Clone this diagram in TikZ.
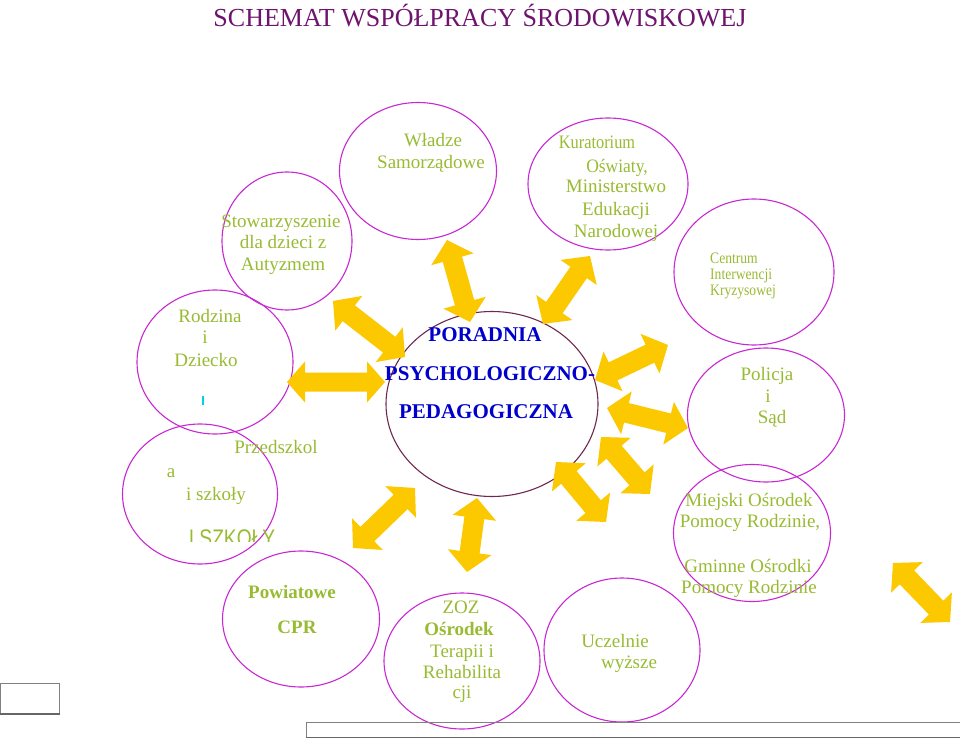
\documentclass[tikz,border=0pt]{standalone}
\usepackage{fontspec}
\setmainfont{Liberation Serif}
\newfontfamily\arialf{Liberation Sans}
\usetikzlibrary{calc,shapes.geometric}
\definecolor{elmag}{RGB}{200,40,210}
\definecolor{poradc}{RGB}{110,40,80}
\definecolor{txtgreen}{RGB}{153,187,51}
\definecolor{pblue}{RGB}{0,0,204}
\definecolor{titlec}{RGB}{110,20,110}
\definecolor{arry}{RGB}{252,200,0}
\definecolor{cyanm}{RGB}{0,210,230}
% #1 start, #2 end, #3 shaft half width, #4 head half width, #5 head length
\newcommand{\dblarrow}[5]{%
\fill[arry] let \p1=($(#2)-(#1)$), \n1={atan2(\y1,\x1)} in
 (#1) -- ($(#1)+(\n1:#5)+(\n1+90:#4)$) -- ($(#1)+(\n1:#5)+(\n1+90:#3)$)
 -- ($(#2)+(\n1+180:#5)+(\n1+90:#3)$) -- ($(#2)+(\n1+180:#5)+(\n1+90:#4)$)
 -- (#2) -- ($(#2)+(\n1+180:#5)+(\n1-90:#4)$) -- ($(#2)+(\n1+180:#5)+(\n1-90:#3)$)
 -- ($(#1)+(\n1:#5)+(\n1-90:#3)$) -- ($(#1)+(\n1:#5)+(\n1-90:#4)$) -- cycle;}
\begin{document}
\begin{tikzpicture}[x=1pt,y=-1pt,
  bub/.style={draw=elmag, line width=1.1pt, ellipse, inner sep=0pt},
  lbl/.style={text=txtgreen, font=\fontsize{19}{22}\selectfont, anchor=base, inner sep=0pt},
  lblb/.style={lbl, font=\fontsize{19}{22}\selectfont\bfseries},
  plbl/.style={text=pblue, font=\fontsize{21}{24}\selectfont\bfseries, anchor=base, inner sep=0pt},
  smlbl/.style={text=txtgreen, font=\fontsize{16}{16}\selectfont, anchor=base west, inner sep=0pt}]
\useasboundingbox (0,0) rectangle (960,738);
\fill[white] (0,0) rectangle (960,738);

% title
\node[text=titlec, font=\fontsize{26}{30}\selectfont, anchor=base, inner sep=0pt] (title) at (480,27) {SCHEMAT WSPÓŁPRACY ŚRODOWISKOWEJ};

% bubbles
\node[bub, minimum width=130pt, minimum height=138pt] (stow) at (287,241) {};
\node[bub, minimum width=157pt, minimum height=137pt] (wladze) at (418,171) {};
\node[bub, minimum width=160pt, minimum height=132pt] (kurat) at (608,184) {};
\node[bub, minimum width=160pt, minimum height=146pt] (centrum) at (754,272) {};
\node[bub, minimum width=157pt, minimum height=134pt] (policja) at (766,415) {};
\node[bub, minimum width=157pt, minimum height=137pt] (miejski) at (752,533) {};
\node[bub, minimum width=156pt, minimum height=144pt] (rodzina) at (215,362) {};
\node[bub, minimum width=155pt, minimum height=140pt] (przedsz) at (200,494) {};
\node[bub, minimum width=157pt, minimum height=136pt] (powiat) at (301,619) {};
\node[bub, minimum width=156pt, minimum height=136pt] (zoz) at (462,661) {};
\node[bub, minimum width=156pt, minimum height=144pt] (uczelnie) at (622,650) {};
\node[draw=poradc, line width=1.1pt, ellipse, inner sep=0pt, minimum width=212pt, minimum height=185pt] (poradnia) at (492,404) {};

% arrows
\coordinate (a1s) at (333,301); \coordinate (a1e) at (405,357);
\coordinate (a2s) at (287,382); \coordinate (a2e) at (385,382);
\coordinate (a3s) at (447,240); \coordinate (a3e) at (470,322);
\coordinate (a4s) at (590,256); \coordinate (a4e) at (543,324);
\coordinate (a5s) at (595,380); \coordinate (a5e) at (668,345);
\coordinate (a6s) at (607,408); \coordinate (a6e) at (688,428);
\coordinate (a7s) at (601,437); \coordinate (a7e) at (650,494);
\coordinate (a8s) at (556,462); \coordinate (a8e) at (606,522);
\coordinate (a9s) at (477,498); \coordinate (a9e) at (467,572);
\coordinate (a10s) at (415,488); \coordinate (a10e) at (353,548);
\coordinate (a11s) at (893,563); \coordinate (a11e) at (950,622);
\dblarrow{a1s}{a1e}{10pt}{22pt}{20pt}
\dblarrow{a2s}{a2e}{9.5pt}{20.5pt}{18pt}
\dblarrow{a3s}{a3e}{10pt}{22pt}{20pt}
\dblarrow{a4s}{a4e}{10pt}{22pt}{20pt}
\dblarrow{a5s}{a5e}{10pt}{22pt}{20pt}
\dblarrow{a6s}{a6e}{10pt}{22pt}{20pt}
\dblarrow{a7s}{a7e}{10pt}{22pt}{20pt}
\dblarrow{a8s}{a8e}{10pt}{22pt}{20pt}
\dblarrow{a9s}{a9e}{10pt}{22pt}{20pt}
\dblarrow{a10s}{a10e}{10pt}{22pt}{20pt}
\dblarrow{a11s}{a11e}{10pt}{22pt}{20pt}

% texts
\node[lbl] (ts1) at (281,227) {Stowarzyszenie};
\node[lbl] (ts2) at (283,248) {dla dzieci z};
\node[lbl] (ts3) at (283,270) {Autyzmem};
\node[lbl] (tw1) at (433,147) {Władze};
\node[lbl] (tw2) at (431,169) {Samorządowe};
\node[lbl] (tk1) at (597,149) {\scalebox{0.86}[1]{Kuratorium}};
\node[lbl] (tk2) at (617,172) {\scalebox{0.92}[1]{Oświaty,}};
\node[lbl] (tk3) at (616,193) {Ministerstwo};
\node[lbl] (tk4) at (616,215) {Edukacji};
\node[lbl] (tk5) at (616,237) {Narodowej};
\node[smlbl] (tc1) at (710,263) {\scalebox{0.85}[1]{Centrum}};
\node[smlbl] (tc2) at (710,279) {\scalebox{0.85}[1]{Interwencji}};
\node[smlbl] (tc3) at (710,295) {\scalebox{0.85}[1]{Kryzysowej}};
\node[lbl] (tp1) at (767,380) {Policja};
\node[lbl] (tp2) at (768,402) {i};
\node[lbl] (tp3) at (772,423) {Sąd};
\node[lbl] (tm1) at (749,506) {Miejski Ośrodek};
\node[lbl] (tm2) at (750,527) {Pomocy Rodzinie,};
\node[lbl] (tm3) at (748,572) {Gminne Ośrodki};
\node[lbl] (tm4) at (749,593) {Pomocy Rodzinie};
\node[lbl] (tr1) at (210,322) {Rodzina};
\node[lbl] (tr2) at (205,343) {i};
\node[lbl] (tr3) at (206,366) {Dziecko};
\draw[cyanm, line width=1.5pt] (203,396) -- (203,405);
\node[lbl] (tz1) at (276,453) {Przedszkol};
\node[lbl] (tz2) at (171,477) {a};
\node[lbl] (tz3) at (216,500) {i szkoły};
\begin{scope}
\clip (150,520) rectangle (300,541);
\node[lbl, font=\fontsize{24}{26}\selectfont\arialf] (tz4) at (232,546) {\scalebox{0.8}[1]{I SZKOŁY}};
\end{scope}
\node[lblb] (tw3) at (292,598) {Powiatowe};
\node[lblb] (tw4) at (297,633) {CPR};
\node[lbl] (to1) at (461,613) {ZOZ};
\node[lblb] (to2) at (459,635) {Ośrodek};
\node[lbl] (to3) at (462,657) {Terapii i};
\node[lbl] (to4) at (462,678) {Rehabilita};
\node[lbl] (to5) at (462,698) {cji};
\node[lbl] (tu1) at (615,647) {Uczelnie};
\node[lbl] (tu2) at (629,668) {wyższe};
\node[plbl] (pp1) at (485,341) {PORADNIA};
\node[plbl] (pp2) at (490,380) {PSYCHOLOGICZNO-};
\node[plbl] (pp3) at (486,418) {PEDAGOGICZNA};

% boxes
\node[draw=gray, line width=1pt, minimum width=59pt, minimum height=30pt, inner sep=0pt, anchor=north west] (box1) at (0,683) {};
\draw[black!60, line width=1.5pt] (box1.south west) -- (box1.south east);
\node[draw=gray, line width=1pt, minimum width=654pt, minimum height=15pt, inner sep=0pt, anchor=north west] (bar1) at (306,722) {};
\draw[black!60, line width=2pt] (bar1.south west) -- (bar1.south east);
\end{tikzpicture}
\end{document}
